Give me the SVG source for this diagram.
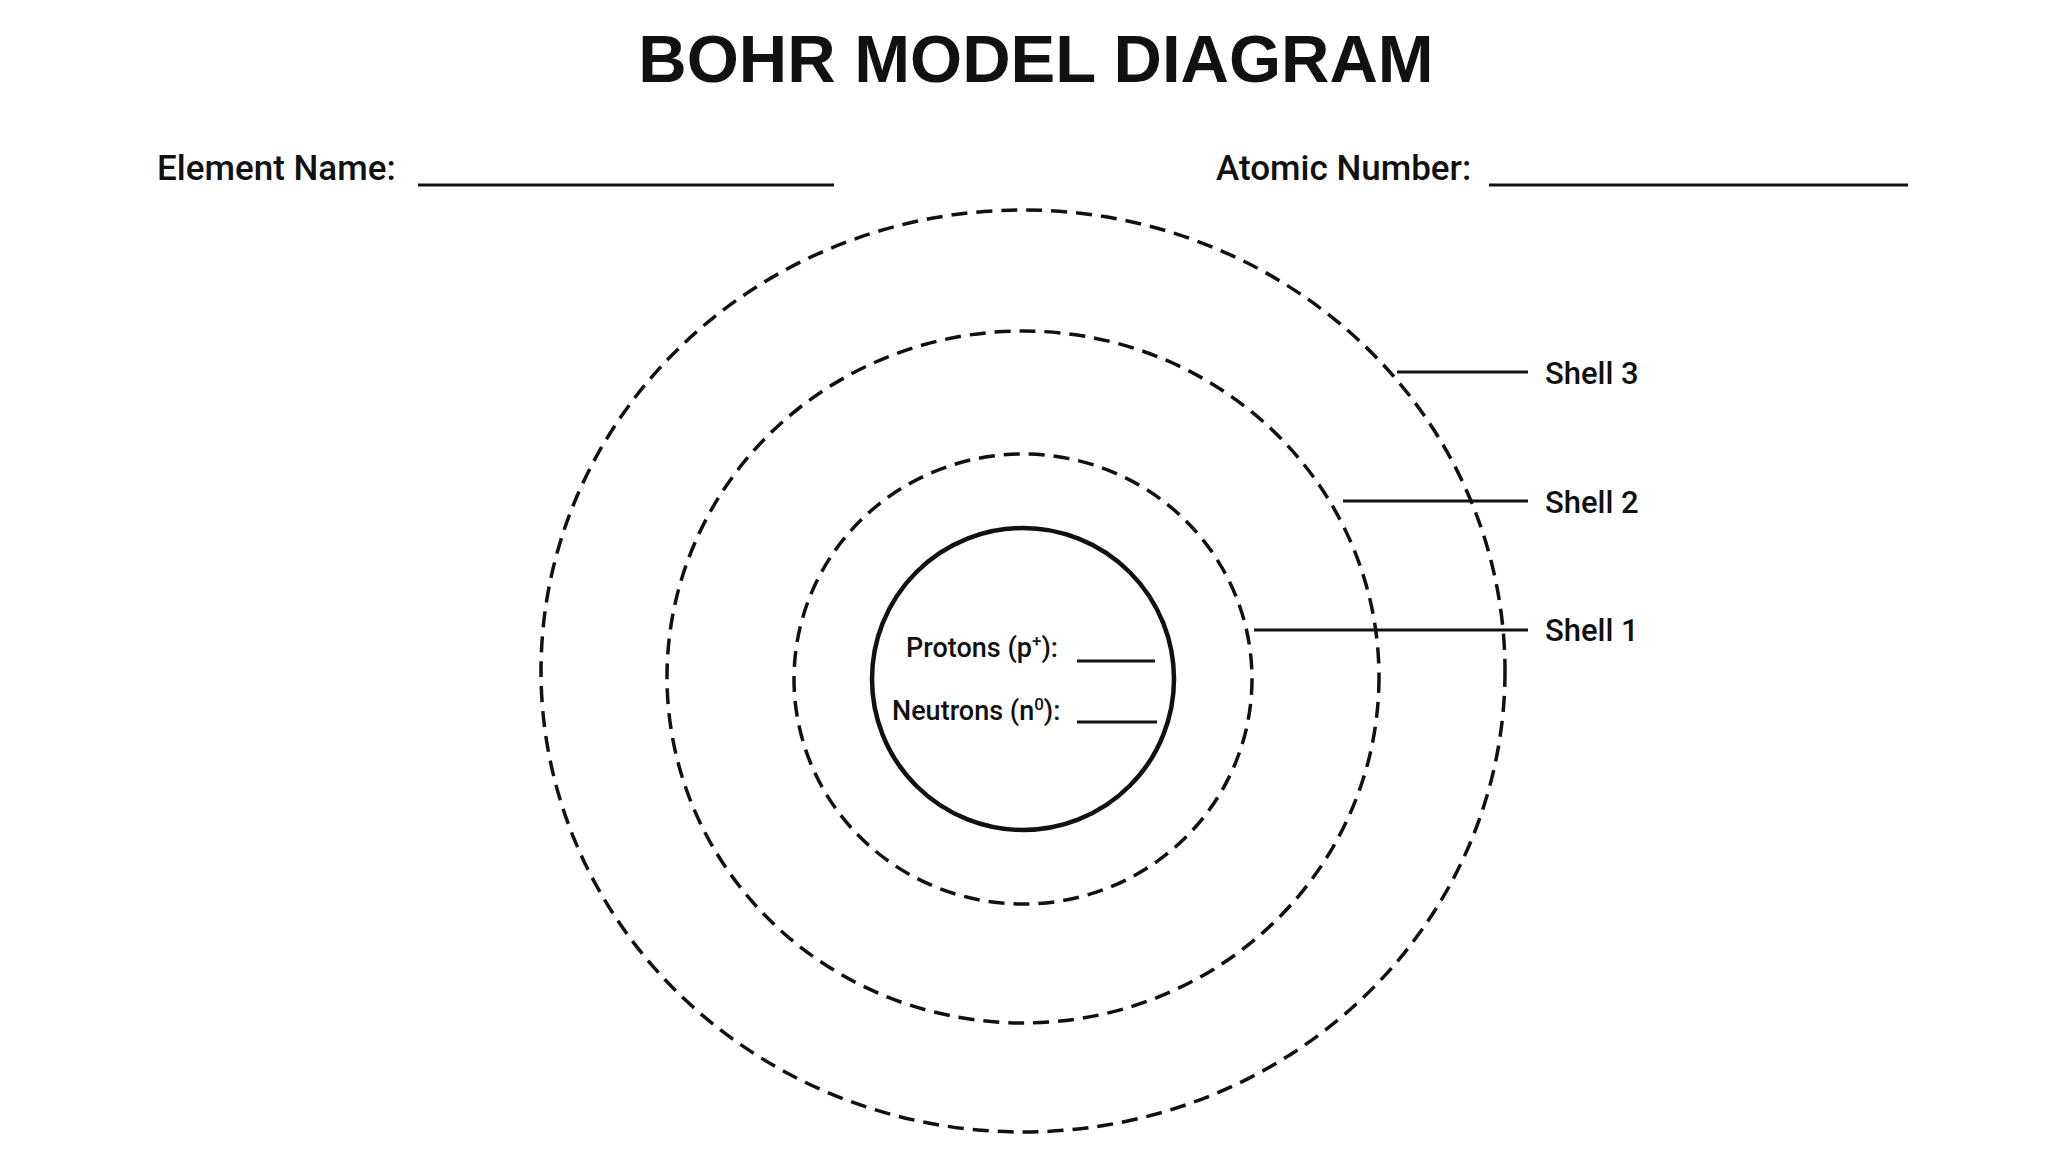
<svg xmlns="http://www.w3.org/2000/svg" width="2048" height="1152" viewBox="0 0 2048 1152">
<style>
.t{font-family:Roboto,"Liberation Sans",sans-serif;fill:#111;font-weight:500}
.ln{stroke:#111;stroke-width:3;fill:none}
.sh{stroke:#111;stroke-width:3.5;fill:none;stroke-dasharray:16 9}
</style>
<rect width="2048" height="1152" fill="#fff"/>
<text x="1036" y="82" text-anchor="middle" font-family="'Liberation Sans',Arial,sans-serif" font-weight="bold" font-size="67" fill="#111">BOHR MODEL DIAGRAM</text>
<g id="element-name"><text class="t" x="157" y="180" font-size="35">Element Name:</text><line class="ln" x1="418" y1="185" x2="834" y2="185"/></g>
<g id="atomic-number"><text class="t" x="1216" y="180" font-size="35">Atomic Number:</text><line class="ln" x1="1489" y1="185" x2="1908" y2="185"/></g>
<g id="shell3"><ellipse class="sh" cx="1023" cy="671" rx="482" ry="461"/></g>
<g id="shell2"><ellipse class="sh" cx="1023" cy="677" rx="356" ry="346"/></g>
<g id="shell1"><ellipse class="sh" cx="1023" cy="679" rx="229" ry="225"/></g>
<g id="nucleus"><circle cx="1023" cy="679" r="151" fill="none" stroke="#111" stroke-width="4.5"/>
<text class="t" x="906" y="657" font-size="27">Protons (p<tspan font-size="17" dy="-10">+</tspan><tspan dy="10">):</tspan></text><line class="ln" x1="1077" y1="661" x2="1155" y2="661" stroke-width="2"/>
<text class="t" x="892" y="720" font-size="27">Neutrons (n<tspan font-size="17" dy="-10">0</tspan><tspan dy="10">):</tspan></text><line class="ln" x1="1077" y1="722" x2="1157" y2="722" stroke-width="2"/>
</g>
<g id="connectors">
<line class="ln" x1="1397" y1="372" x2="1528" y2="372"/>
<line class="ln" x1="1343" y1="501" x2="1528" y2="501"/>
<line class="ln" x1="1254" y1="630" x2="1528" y2="630"/>
</g>
<g id="labels">
<text class="t" x="1545" y="384" font-size="31">Shell 3</text>
<text class="t" x="1545" y="513" font-size="31">Shell 2</text>
<text class="t" x="1545" y="641" font-size="31">Shell 1</text>
</g>
</svg>
